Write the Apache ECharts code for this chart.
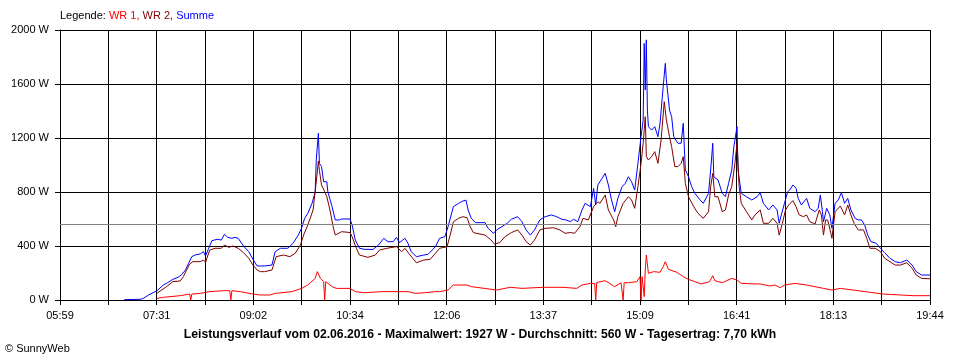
<!DOCTYPE html>
<html>
<head>
<meta charset="utf-8">
<script src="https://cdn.jsdelivr.net/npm/echarts@6/dist/echarts.min.js"></script>
<style>
html,body{margin:0;padding:0;background:#fff;}
#c{width:960px;height:360px;}
</style>
</head>
<body>
<div id="c"></div>
<script>
// Time axis: 05:59 .. 19:44 (minutes of day), 18 grid steps, labels every 2nd step
const tStart = 359, tEnd = 1184, steps = 18;
const tickLabels = ['05:59','07:31','09:02','10:34','12:06','13:37','15:09','16:41','18:13','19:44'];
const yTicks = [0, 400, 800, 1200, 1600, 2000];
const average = 560;
const titleText = 'Leistungsverlauf vom 02.06.2016 - Maximalwert: 1927 W - Durchschnitt: 560 W - Tagesertrag: 7,70 kWh';

// [minute of day, W]
const summe = [
[420,3],[435,5],[438,12],[443,37],[451,69],[457,111],[461,128],[466,153],[471,168],[474,185],[478,222],[481,272],[484,321],[487,333],[492,341],[495,358],[497,326],[500,383],[503,439],[508,450],[512,444],[515,487],[518,464],[522,457],[525,464],[528,457],[533,400],[538,358],[542,301],[546,252],[549,252],[553,252],[560,259],[563,358],[568,383],[575,383],[580,420],[585,481],[588,531],[591,605],[594,642],[598,716],[601,802],[602,1037],[604,1235],[605,1012],[607,988],[609,876],[612,876],[613,802],[617,691],[620,593],[624,593],[626,600],[634,600],[636,556],[639,444],[643,383],[648,375],[656,375],[661,407],[666,457],[670,432],[675,432],[678,464],[681,425],[686,457],[689,420],[692,358],[697,321],[704,333],[708,338],[715,395],[719,457],[724,469],[727,543],[732,691],[737,716],[741,733],[744,740],[746,667],[749,605],[753,573],[762,573],[765,531],[770,494],[773,519],[778,543],[783,568],[787,598],[793,617],[797,580],[801,519],[805,481],[809,519],[814,593],[819,617],[825,630],[830,617],[835,598],[839,593],[843,580],[846,598],[850,580],[854,667],[857,716],[862,691],[865,827],[867,704],[869,852],[873,901],[876,938],[879,852],[882,741],[885,654],[888,753],[892,839],[895,864],[898,913],[901,876],[904,815],[907,1012],[910,1210],[912,1333],[913,1901],[914,1556],[915,1927],[916,1407],[917,1284],[920,1259],[923,1284],[926,1210],[928,1309],[931,1580],[933,1753],[934,1630],[937,1407],[939,1358],[941,1210],[943,1185],[945,1161],[948,1161],[950,1309],[952,963],[955,913],[958,839],[961,790],[966,741],[969,716],[974,790],[976,963],[978,1161],[979,913],[983,889],[987,790],[990,765],[993,864],[996,963],[998,1136],[1001,1284],[1002,963],[1005,790],[1010,765],[1015,741],[1020,765],[1023,795],[1026,716],[1031,667],[1035,704],[1039,667],[1041,568],[1043,630],[1046,716],[1049,802],[1051,815],[1054,852],[1057,827],[1059,753],[1062,704],[1067,753],[1070,679],[1075,654],[1078,679],[1080,778],[1082,654],[1083,580],[1086,679],[1089,630],[1091,531],[1094,716],[1097,741],[1100,795],[1103,716],[1106,753],[1109,667],[1113,605],[1116,593],[1119,593],[1122,556],[1125,481],[1128,432],[1133,420],[1137,383],[1141,351],[1146,309],[1151,284],[1156,276],[1162,296],[1167,259],[1171,210],[1176,185],[1184,185]
];

const wr2 = [
[451,50],[460,99],[466,136],[473,141],[476,173],[479,222],[482,267],[485,284],[492,284],[495,296],[497,279],[501,370],[506,383],[512,383],[515,407],[519,390],[523,400],[528,383],[533,351],[538,309],[542,259],[546,222],[549,210],[553,210],[560,222],[564,321],[571,333],[577,321],[582,346],[587,407],[590,481],[594,556],[599,667],[602,876],[604,1030],[605,960],[607,852],[610,802],[612,765],[615,667],[618,543],[620,481],[626,506],[634,500],[636,469],[640,383],[643,333],[651,316],[658,333],[662,370],[669,383],[678,395],[683,358],[686,383],[691,333],[697,276],[704,296],[710,301],[715,346],[719,383],[726,395],[729,481],[732,580],[737,605],[741,617],[745,610],[748,543],[751,499],[762,481],[767,450],[771,415],[776,425],[781,469],[787,499],[793,519],[797,481],[801,432],[805,407],[809,444],[814,519],[819,531],[827,535],[833,519],[838,494],[843,500],[847,494],[852,543],[855,605],[860,593],[865,691],[869,728],[871,716],[876,778],[879,667],[884,593],[886,543],[888,617],[893,716],[898,765],[901,741],[904,679],[907,839],[910,1012],[912,1161],[914,1358],[915,1062],[917,1037],[920,1062],[923,1099],[926,1012],[929,1185],[932,1469],[934,1333],[937,1210],[939,1136],[942,988],[945,988],[948,1012],[950,1062],[952,864],[955,765],[960,691],[964,642],[969,605],[974,654],[976,839],[978,938],[980,765],[983,765],[987,654],[990,667],[993,778],[996,839],[999,1012],[1001,1161],[1003,839],[1005,716],[1010,654],[1015,593],[1018,630],[1023,667],[1026,568],[1031,568],[1035,605],[1039,568],[1041,481],[1044,568],[1047,667],[1050,704],[1054,736],[1057,691],[1060,630],[1064,617],[1067,630],[1070,580],[1075,563],[1079,667],[1081,630],[1083,481],[1085,593],[1087,593],[1090,494],[1091,457],[1094,654],[1099,696],[1103,630],[1106,704],[1109,630],[1112,568],[1116,519],[1121,519],[1124,457],[1127,383],[1132,383],[1137,358],[1141,309],[1146,284],[1151,259],[1156,259],[1162,276],[1167,235],[1171,185],[1176,160],[1184,157]
];

const wr1 = [
[451,12],[457,20],[473,32],[482,44],[483,0],[484,44],[492,49],[501,62],[514,69],[520,69],[521,0],[522,69],[530,62],[542,44],[549,37],[558,37],[563,49],[579,62],[588,86],[594,111],[601,160],[603,210],[606,160],[609,136],[610,0],[611,136],[617,99],[621,86],[634,86],[639,62],[648,54],[664,62],[689,62],[696,49],[705,54],[715,62],[719,62],[727,74],[732,111],[745,111],[749,99],[773,74],[786,94],[797,86],[817,94],[836,94],[849,86],[854,111],[862,123],[866,123],[867,0],[868,130],[869,136],[876,143],[885,99],[891,128],[892,128],[893,0],[894,128],[898,128],[906,136],[909,173],[910,0],[911,173],[913,25],[914,222],[915,333],[917,198],[922,210],[928,205],[931,247],[933,284],[936,227],[944,205],[950,173],[955,153],[961,136],[967,119],[975,136],[978,180],[980,143],[987,128],[996,160],[1001,148],[1005,123],[1018,119],[1023,119],[1032,104],[1037,111],[1042,91],[1046,111],[1056,123],[1067,111],[1083,86],[1091,74],[1099,86],[1111,74],[1127,57],[1140,44],[1156,37],[1168,32],[1184,32]
];

const stepMin = (tEnd - tStart) / steps;
const toAxis = arr => arr.map(p => [(p[0] - tStart) / stepMin, p[1]]);

const FONT = 'Liberation Sans';
const chart = echarts.init(document.getElementById('c'), null, {renderer: 'canvas'});
chart.setOption({
  animation: false,
  backgroundColor: '#ffffff',
  textStyle: {fontFamily: FONT},
  title: [
    {
      text: '{k|Legende: }{a|WR 1, }{b|WR 2, }{c|Summe}',
      left: 60, top: 10, padding: 0,
      textStyle: {
        fontWeight: 'normal', fontSize: 11,
        rich: {
          k: {color: '#000000', fontSize: 11, fontWeight: 'normal', fontFamily: FONT},
          a: {color: '#ff0000', fontSize: 11, fontWeight: 'normal', fontFamily: FONT},
          b: {color: '#800000', fontSize: 11, fontWeight: 'normal', fontFamily: FONT},
          c: {color: '#0000ff', fontSize: 11, fontWeight: 'normal', fontFamily: FONT}
        }
      }
    },
    {
      text: titleText,
      left: 'center', top: 329, padding: 0,
      textStyle: {color: '#000', fontSize: 12.2, fontWeight: 'bold', fontFamily: FONT}
    },
    {
      text: '© SunnyWeb',
      left: 5, top: 343, padding: 0,
      textStyle: {color: '#000', fontSize: 11, fontWeight: 'normal', fontFamily: FONT}
    }
  ],
  grid: {left: 60, right: 30, top: 30, bottom: 60, containLabel: false},
  xAxis: {
    type: 'value', min: 0, max: steps, interval: 1,
    axisLine: {show: true, lineStyle: {color: '#000', width: 1}},
    axisTick: {show: true, length: 5, lineStyle: {color: '#000'}},
    axisLabel: {
      color: '#000', fontSize: 11, fontFamily: FONT, margin: 10,
      formatter: v => { const i = Math.round(v); return i % 2 === 0 ? tickLabels[i / 2] : ''; }
    },
    splitLine: {show: true, lineStyle: {color: '#000', width: 1}}
  },
  yAxis: {
    type: 'value', min: yTicks[0], max: yTicks[yTicks.length - 1], interval: yTicks[1] - yTicks[0],
    axisLine: {show: true, lineStyle: {color: '#000', width: 1}},
    axisTick: {show: true, length: 5, lineStyle: {color: '#000'}},
    axisLabel: {color: '#000', fontSize: 11, fontFamily: FONT, margin: 11, formatter: v => v + ' W'},
    splitLine: {show: true, lineStyle: {color: '#000', width: 1}}
  },
  series: [
    {
      name: 'Summe', type: 'line', data: toAxis(summe), symbol: 'none',
      lineStyle: {color: '#0000ff', width: 1}, itemStyle: {color: '#0000ff'},
      markLine: {
        silent: true, symbol: 'none', label: {show: false},
        lineStyle: {color: '#808080', type: 'solid', width: 1},
        data: [{yAxis: average}]
      }
    },
    {
      name: 'WR 2', type: 'line', data: toAxis(wr2), symbol: 'none',
      lineStyle: {color: '#800000', width: 1}, itemStyle: {color: '#800000'}
    },
    {
      name: 'WR 1', type: 'line', data: toAxis(wr1), symbol: 'none',
      lineStyle: {color: '#ff0000', width: 1}, itemStyle: {color: '#ff0000'}
    }
  ]
});
</script>
</body>
</html>
